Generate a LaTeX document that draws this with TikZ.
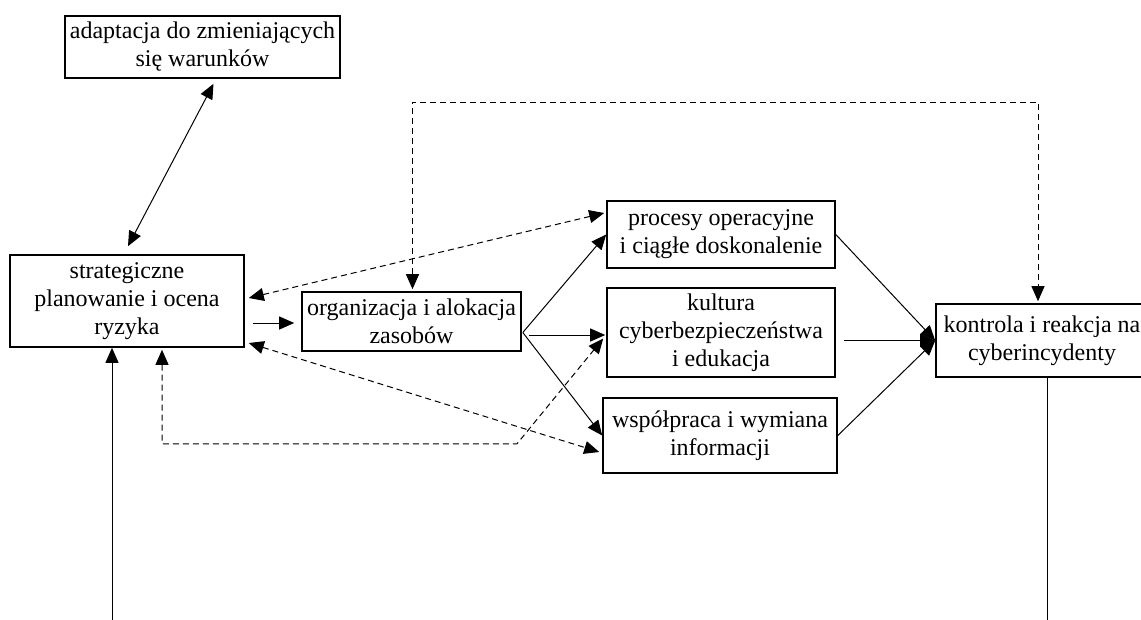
\documentclass[tikz,border=0pt]{standalone}
\usepackage{fontspec}
\setmainfont{Liberation Serif}
\usetikzlibrary{arrows.meta}
\usetikzlibrary{calc}

\begin{document}
\begin{tikzpicture}[x=1pt,y=-1pt,
	>={Triangle[length=15pt,width=13pt]},
	blok/.style={draw,line width=1.6pt,align=center,inner sep=2pt,font=\fontsize{24}{28}\selectfont},
	linia/.style={line width=1pt},
	przerywana/.style={line width=1pt,dash pattern=on 6pt off 4pt}]
	\useasboundingbox (0,0) rectangle (1141,619);
	\clip (0,0) rectangle (1141,619);
	
	\node[blok,minimum width=275pt,minimum height=62pt] (adapt) at (202.5,47) {adaptacja do zmieniających\\się warunków};
	\node[blok,minimum width=234pt,minimum height=92pt] (strat) at (127,301) {strategiczne\\planowanie i ocena\\ryzyka};
	\node[blok,minimum width=219pt,minimum height=59pt] (org) at (411.5,321.5) {organizacja i alokacja\\zasobów};
	\node[blok,minimum width=228pt,minimum height=67pt] (proc) at (721,234.5) {procesy operacyjne\\i ciągłe doskonalenie};
	\node[blok,minimum width=228pt,minimum height=89pt] (kult) at (721,332.5) {kultura\\cyberbezpieczeństwa\\i edukacja};
	\node[blok,minimum width=234pt,minimum height=75pt] (wsp) at (720,435.5) {współpraca i wymiana\\informacji};
	\node[blok,minimum width=212pt,minimum height=73pt] (kontr) at (1042,340.5) {kontrola i reakcja na\\cyberincydenty};
	
	\coordinate (dolL) at (112,625);
	\coordinate (dolP) at (1047,625);
	
	\draw[linia,<->] ($(adapt.south)+(11,5)$) -- ($(strat.north)+(1,-8)$);
	\draw[linia,->] ($(strat.east)+(8,22)$) -- ($(org.west)+(-7,1.5)$);
	\foreach \cel in {proc,wsp}
	\draw[linia,->] ($(org.east)+(1,11)$) -- (\cel.west);
	\draw[linia,->] ($(org.east)+(7,13.5)$) -- ($(kult.west)+(-1,2.5)$);
	\draw[linia,->] (proc.east) -- (kontr.west);
	\draw[linia,->] ($(kult.east)+(8,8)$) -- (kontr.west);
	\draw[linia,->] (wsp.east) -- (kontr.west);
	\draw[linia,->] (dolL) -- (dolL |- strat.south);
	\draw[linia] ($(kontr.south)+(5,0)$) -- (dolP);
	
	\draw[przerywana,<->] ($(strat.east)+(4,-3)$) -- ($(proc.west)+(-2,-21.5)$);
	\draw[przerywana,<->] ($(strat.east)+(4,42)$) -- ($(wsp.west)+(-3,16.5)$);
	\draw[przerywana,<->] ($(strat.south)+(35,2)$) -- ++(0,94) -- ++(355,0) -- ($(kult.west)+(-3,6)$);
	\draw[przerywana,<->] ($(org.north)+(1,-2)$) -- ++(0,-187) -| ($(kontr.north)+(-4,-2)$);
\end{tikzpicture}
\end{document}
